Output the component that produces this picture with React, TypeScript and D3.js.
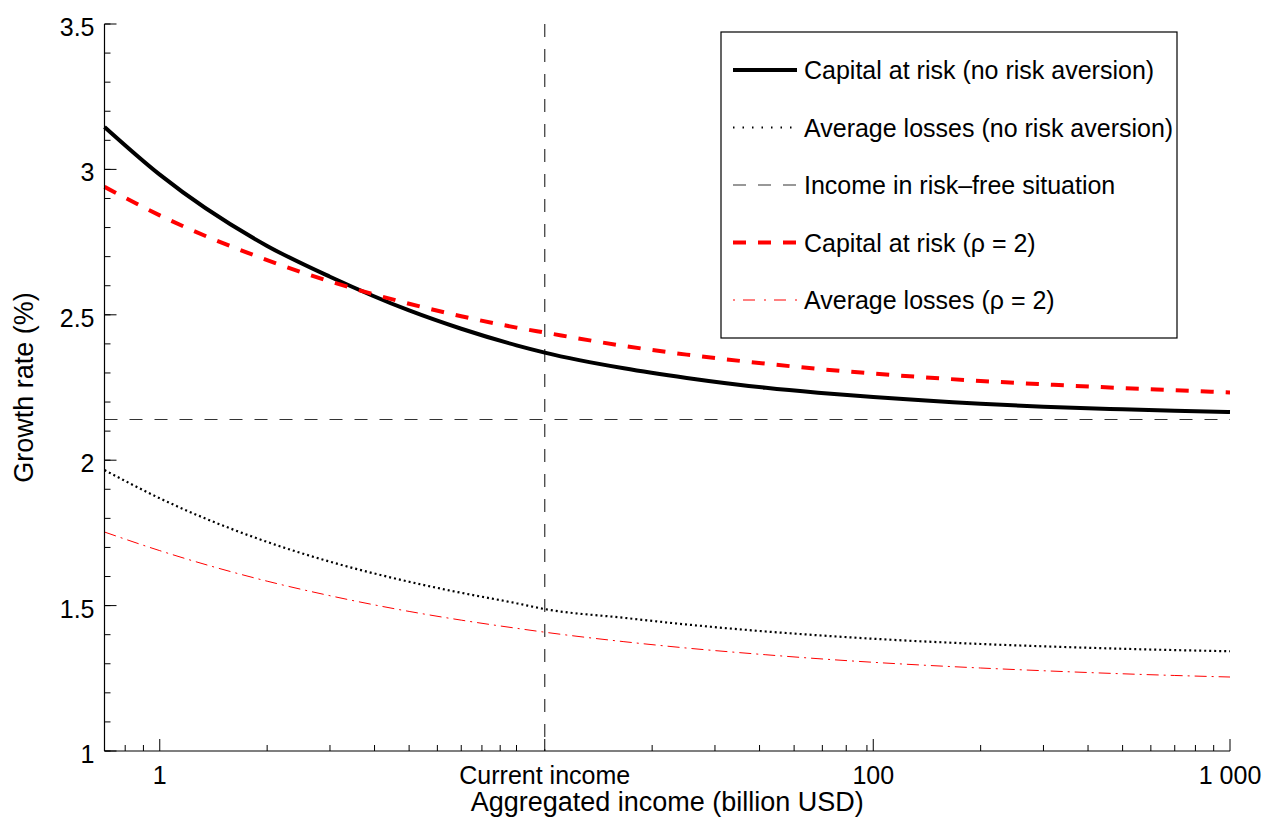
import * as d3 from 'd3';

const incomes = [0.7, 1, 2, 3, 5, 7, 10, 12, 20, 30, 50, 70, 100, 200, 300, 500, 700, 1000];

// growth rate (%) for each series
const carNoAversion = [3.146, 2.982, 2.737, 2.631, 2.515, 2.452, 2.395, 2.37, 2.316, 2.283, 2.249, 2.232, 2.217, 2.194, 2.184, 2.175, 2.17, 2.166];
const avgNoAversion = [1.966, 1.869, 1.719, 1.651, 1.582, 1.544, 1.508, 1.488, 1.458, 1.435, 1.411, 1.398, 1.386, 1.368, 1.36, 1.3515, 1.347, 1.343];
const carRho2 = [2.94, 2.842, 2.688, 2.615, 2.538, 2.495, 2.456, 2.439, 2.393, 2.363, 2.332, 2.314, 2.298, 2.2725, 2.261, 2.248, 2.2405, 2.233];
const avgRho2 = [1.753, 1.689, 1.584, 1.534, 1.48, 1.45, 1.422, 1.4085, 1.376, 1.354, 1.331, 1.3175, 1.305, 1.2854, 1.276, 1.2655, 1.2597, 1.2544];

const riskFreeRate = 2.14;
const currentIncome = 12;

const xMajorTicks = [1, 12, 100, 1000];
const xMajorLabels = ['1', 'Current income', '100', '1 000'];
const xMinorTicks = [0.8, 0.9, 2, 3, 4, 5, 6, 7, 8, 9, 10, 24, 36, 48, 60, 72, 84, 96, 200, 300, 400, 500, 600, 700, 800, 900];
const yMajorTicks = [1, 1.5, 2, 2.5, 3, 3.5];
const yMinorTicks = d3.range(10, 36).map(d => d / 10);

const legendLabels = [
  'Capital at risk (no risk aversion)',
  'Average losses (no risk aversion)',
  'Income in risk\u2013free situation',
  'Capital at risk (\u03c1 = 2)',
  'Average losses (\u03c1 = 2)',
];

const FONT = '"Liberation Sans", Arial, Helvetica, sans-serif';

export default function App() {
  const width = 1269;
  const height = 822;
  const left = 104.5, right = 1230, top = 24, bottom = 751;

  const x = d3.scaleLog().domain([0.7, 1000]).range([left, right]);
  const y = d3.scaleLinear().domain([1, 3.5]).range([bottom, top]);

  const line = d3.line<[number, number]>()
    .x(d => x(d[0]))
    .y(d => y(d[1]))
    .curve(d3.curveMonotoneX);
  const pts = (vals: number[]) => incomes.map((v, i) => [v, vals[i]] as [number, number]);

  // series styles
  const styles = [
    { stroke: '#000', width: 4, dash: undefined as string | undefined, legendDash: undefined as string | undefined },
    { stroke: '#000', width: 2.2, dash: '2,3', legendDash: '1.5,8' },
    { stroke: '#333', width: 1.2, dash: '13,12', legendDash: '13,12' },
    { stroke: '#ff0000', width: 4, dash: '13,12', legendDash: '13,12' },
    { stroke: '#ff0000', width: 1, dash: '12,5,2,5', legendDash: '2,8,12,9' },
  ];

  const legX = 721, legY = 32, legW = 456, legH = 306;
  const rowY = (i: number) => legY + 38 + i * 57.5;

  return (
    <svg width={width} height={height} style={{ position: 'absolute', left: 0, top: 0, background: '#fff' }}
      fontFamily={FONT}>
      <rect x={0} y={0} width={width} height={height} fill="#fff" />

      {/* reference lines */}
      <line x1={left} x2={right} y1={y(riskFreeRate)} y2={y(riskFreeRate)}
        stroke={styles[2].stroke} strokeWidth={styles[2].width} strokeDasharray={styles[2].dash} />
      <line x1={x(currentIncome)} x2={x(currentIncome)} y1={top} y2={bottom}
        stroke={styles[2].stroke} strokeWidth={styles[2].width} strokeDasharray={styles[2].dash} />

      {/* curves */}
      <path d={line(pts(avgRho2)) || ''} fill="none" stroke={styles[4].stroke} strokeWidth={styles[4].width} strokeDasharray={styles[4].dash} />
      <path d={line(pts(avgNoAversion)) || ''} fill="none" stroke={styles[1].stroke} strokeWidth={styles[1].width} strokeDasharray={styles[1].dash} />
      <path d={line(pts(carNoAversion)) || ''} fill="none" stroke={styles[0].stroke} strokeWidth={styles[0].width} />
      <path d={line(pts(carRho2)) || ''} fill="none" stroke={styles[3].stroke} strokeWidth={styles[3].width} strokeDasharray={styles[3].dash} />

      {/* axes */}
      <line x1={left} x2={right} y1={bottom} y2={bottom} stroke="#000" strokeWidth={1.2} />
      <line x1={left} x2={left} y1={top} y2={bottom} stroke="#000" strokeWidth={1.2} />
      {xMinorTicks.map(t => (
        <line key={'xm' + t} x1={x(t)} x2={x(t)} y1={bottom} y2={bottom - 6} stroke="#000" strokeWidth={1} />
      ))}
      {xMajorTicks.map((t, i) => (
        <g key={'xM' + t}>
          <line x1={x(t)} x2={x(t)} y1={bottom} y2={bottom - 12} stroke="#000" strokeWidth={1} />
          <text x={x(t)} y={bottom + 24} textAnchor="middle" dominantBaseline="central" fontSize={25}>{xMajorLabels[i]}</text>
        </g>
      ))}
      {yMinorTicks.map(t => (
        <line key={'ym' + t} x1={left} x2={left + 6} y1={y(t)} y2={y(t)} stroke="#000" strokeWidth={1} />
      ))}
      {yMajorTicks.map(t => (
        <g key={'yM' + t}>
          <line x1={left} x2={left + 12} y1={y(t)} y2={y(t)} stroke="#000" strokeWidth={1} />
          <text x={left - 10} y={y(t) + 3} textAnchor="end" dominantBaseline="central" fontSize={25}>{d3.format('')(t)}</text>
        </g>
      ))}

      {/* axis titles */}
      <text x={(left + right) / 2} y={811} textAnchor="middle" fontSize={27}>Aggregated income (billion USD)</text>
      <text transform={`translate(33, ${(top + bottom) / 2}) rotate(-90)`} textAnchor="middle" fontSize={27}>Growth rate (%)</text>

      {/* legend */}
      <rect x={legX} y={legY} width={legW} height={legH} fill="#fff" stroke="#000" strokeWidth={1.2} />
      {legendLabels.map((label, i) => (
        <g key={label}>
          <line x1={733} x2={797} y1={rowY(i)} y2={rowY(i)} stroke={styles[i].stroke}
            strokeWidth={styles[i].width} strokeDasharray={styles[i].legendDash} />
          <text x={804} y={rowY(i)} dominantBaseline="central" fontSize={25}>{label}</text>
        </g>
      ))}
    </svg>
  );
}
